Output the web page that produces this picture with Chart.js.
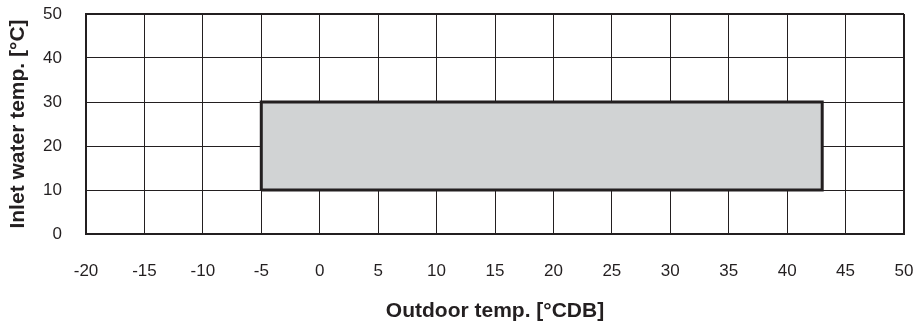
<!DOCTYPE html>
<html>
<head>
<meta charset="utf-8">
<script src="https://cdn.jsdelivr.net/npm/chart.js@4/dist/chart.umd.min.js"></script>
<style>
  html, body { margin: 0; padding: 0; background: #fff; }
  #wrap { width: 919px; height: 325px; }
</style>
</head>
<body>
<div id="wrap"><canvas id="chart"></canvas></div>
<script>
// operating range box (outdoor temp vs inlet water temp)
const rangeX = [-5, -5, 43, 43, -5];
const rangeY = [10, 30, 30, 10, 10];

const xMin = -20, xMax = 50, xStep = 5;
const yMin = 0, yMax = 50, yStep = 10;

const xTitle = "Outdoor temp. [°CDB]";
const yTitle = "Inlet water temp. [°C]";

const points = rangeX.map((x, i) => ({ x: x, y: rangeY[i] }));

const FONT = "Liberation Sans, Arial, sans-serif";

// thicker line on the outer frame
const edgeWidth = (ctx, lo, hi) => {
  const v = ctx.tick ? ctx.tick.value : null;
  return (v === lo || v === hi) ? 2 : 1;
};

new Chart(document.getElementById("chart"), {
  type: "scatter",
  data: {
    datasets: [{
      data: points,
      showLine: true,
      fill: "shape",
      backgroundColor: "#d1d3d4",
      borderColor: "#231f20",
      borderWidth: 3,
      pointRadius: 0,
      tension: 0,
    }],
  },
  options: {
    responsive: true,
    maintainAspectRatio: false,
    animation: false,
    layout: { padding: { left: 0, right: 15, top: 14, bottom: 0 } },
    plugins: {
      legend: { display: false },
      tooltip: { enabled: false },
    },
    scales: {
      x: {
        type: "linear",
        min: xMin,
        max: xMax,
        afterFit: (s) => { s.height = 91; s.paddingLeft = 0; s.paddingRight = 0; },
        ticks: {
          stepSize: xStep,
          color: "#231f20",
          padding: 27,
          maxRotation: 0,
          font: { family: FONT, size: 17 },
        },
        grid: {
          color: "#231f20",
          lineWidth: (ctx) => edgeWidth(ctx, xMin, xMax),
          drawTicks: false,
        },
        border: { color: "#231f20", width: 2 },
        title: {
          display: true,
          text: xTitle,
          color: "#231f20",
          padding: { top: 0, bottom: 1 },
          font: { family: FONT, size: 21, weight: "bold" },
        },
      },
      y: {
        type: "linear",
        min: yMin,
        max: yMax,
        afterFit: (s) => { s.width = 86; s.paddingTop = 0; s.paddingBottom = 0; },
        ticks: {
          stepSize: yStep,
          color: "#231f20",
          padding: 24,
          font: { family: FONT, size: 17 },
        },
        grid: {
          color: "#231f20",
          lineWidth: (ctx) => edgeWidth(ctx, yMin, yMax),
          drawTicks: false,
        },
        border: { color: "#231f20", width: 2 },
        title: {
          display: true,
          text: yTitle,
          color: "#231f20",
          padding: { top: 6, bottom: 0 },
          font: { family: FONT, size: 21, weight: "bold" },
        },
      },
    },
  },
});
</script>
</body>
</html>
